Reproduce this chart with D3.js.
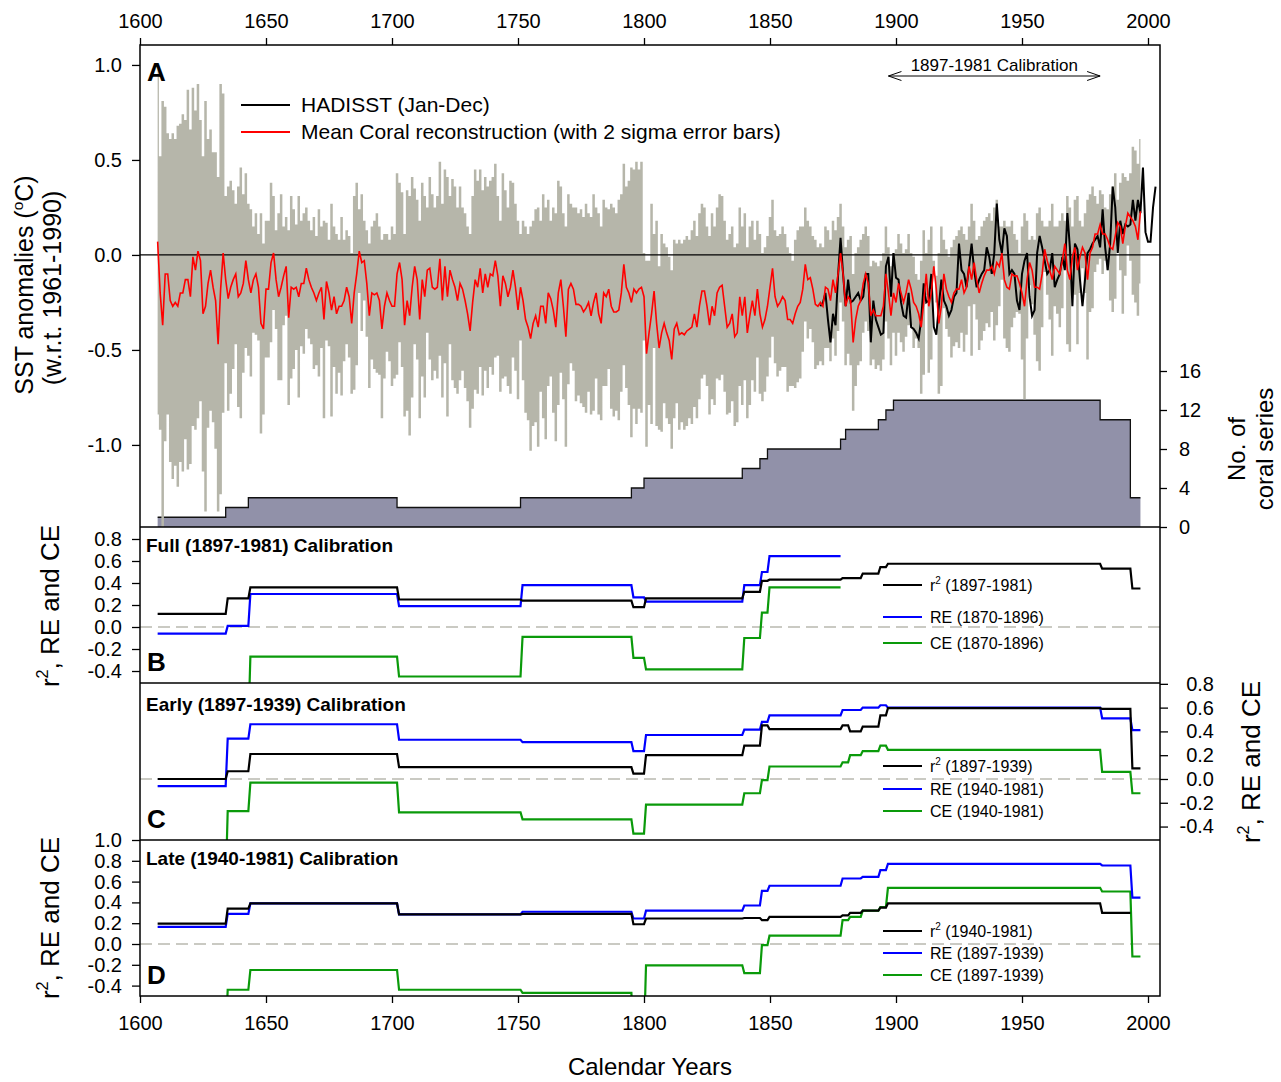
<!DOCTYPE html>
<html>
<head>
<meta charset="utf-8">
<script src="https://cdn.jsdelivr.net/npm/d3@7"></script>
<style>
  body { margin: 0; background: #fff; }
  svg text { font-family: "Liberation Sans", Arial, sans-serif; fill: #000; }
</style>
</head>
<body>
<svg id="chart" width="1281" height="1082"></svg>
<script>
// ---- data ----
// mean coral reconstruction, one value per year from 1607
const reconStart = 1607;
const recon = [
  0.07, -0.20, -0.37,
  -0.10, -0.10, -0.24, -0.27, -0.25, -0.27, -0.20, -0.20, -0.13, -0.13,
  -0.22, -0.01, -0.08, 0.02, -0.03, -0.31, -0.27, -0.15, -0.08, -0.17,
  -0.24, -0.47, -0.18, 0.01, -0.13, -0.23, -0.17, -0.13, -0.10, -0.22,
  -0.20, -0.15, -0.03, -0.13, -0.20, -0.13, -0.10, -0.17, -0.36, -0.39,
  -0.18, -0.18, -0.04, 0.01, -0.13, -0.22, -0.17, -0.11, -0.06, -0.33,
  -0.17, -0.18, -0.17, -0.22, -0.15, -0.15, -0.07, -0.13, -0.17, -0.20,
  -0.24, -0.20, -0.17, -0.34, -0.14, -0.20, -0.29, -0.22, -0.31, -0.27,
  -0.27, -0.24, -0.17, -0.22, -0.36, -0.20, -0.10, 0.02, -0.04, -0.03,
  -0.15, -0.32, -0.20, -0.21, -0.20, -0.24, -0.39, -0.27, -0.20, -0.24,
  -0.27, -0.27, -0.10, -0.04, -0.13, -0.37, -0.24, -0.32, -0.17, -0.06,
  -0.13, -0.34, -0.13, -0.22, -0.08, -0.07, -0.17, -0.18, -0.17, -0.02,
  -0.24, -0.06, -0.22, -0.08, -0.13, -0.17, -0.24, -0.15, -0.18, -0.24,
  -0.31, -0.40, -0.25, -0.13, -0.17, -0.07, -0.20, -0.10, -0.17, -0.10,
  -0.11, -0.03, -0.11, -0.27, -0.11, -0.15, -0.22, -0.17, -0.08, -0.17,
  -0.29, -0.17, -0.24, -0.34, -0.38, -0.44, -0.36, -0.32, -0.38, -0.27,
  -0.27, -0.36, -0.20, -0.23, -0.29, -0.38, -0.20, -0.13, -0.27, -0.43,
  -0.18, -0.15, -0.18, -0.26, -0.26, -0.27, -0.30, -0.28, -0.25, -0.32,
  -0.25, -0.20, -0.31, -0.36, -0.20, -0.22, -0.18, -0.27, -0.30, -0.30,
  -0.29, -0.20, -0.05, -0.17, -0.20, -0.25, -0.18, -0.20, -0.18, -0.17,
  -0.22, -0.52, -0.41, -0.31, -0.19, -0.36, -0.49, -0.41, -0.36, -0.41,
  -0.45, -0.55, -0.39, -0.36, -0.42, -0.41, -0.42, -0.40, -0.39, -0.38,
  -0.31, -0.38, -0.27, -0.19, -0.19, -0.27, -0.37, -0.27, -0.32, -0.20,
  -0.17, -0.16, -0.27, -0.38, -0.36, -0.31, -0.43, -0.41, -0.22, -0.32,
  -0.22, -0.41, -0.32, -0.24, -0.32, -0.18, -0.31, -0.38, -0.34, -0.27,
  -0.17, -0.07, -0.22, -0.27, -0.25, -0.22, -0.24, -0.34, -0.34, -0.36,
  -0.31, -0.27, -0.25, -0.18, -0.05, -0.13, -0.12, -0.18, -0.26, -0.27,
  -0.25, -0.27, -0.17, -0.18, -0.24, -0.13, -0.20, -0.10, 0.01, -0.10,
  -0.27, -0.22, -0.24, -0.46, -0.34, -0.27, -0.24, -0.15, -0.10, -0.15,
  -0.32, -0.29, -0.32, -0.32, -0.32, -0.27, -0.10, -0.20, -0.32, -0.20,
  -0.25, -0.15, -0.20, -0.25, -0.20, -0.13, -0.18, -0.25, -0.27, -0.31,
  -0.38, -0.25, -0.10, -0.27, -0.20, -0.06, -0.18, -0.36, -0.27, -0.10,
  -0.18, -0.22, -0.25, -0.20, -0.18, -0.18, -0.13, -0.20, -0.17, -0.06,
  -0.13, -0.04, -0.13, -0.20, -0.15, -0.11, -0.08, -0.08, -0.06, -0.10,
  -0.04, -0.06, 0.01, -0.13, -0.17, -0.18, -0.10, -0.11, -0.11, -0.15,
  -0.20, -0.27, -0.13, -0.04, -0.08, -0.17, -0.17, -0.18, -0.10, 0.03,
  -0.03, -0.08, -0.13, -0.06, -0.08, -0.10, -0.03, 0.06, -0.08, -0.13,
  -0.01, 0.04, -0.08, -0.01, 0.04, 0.01, -0.13, 0.01, 0.04, 0.11,
  0.11, 0.16, 0.11, 0.11, 0.08, 0.04, 0.03, 0.10, 0.17, 0.15,
  0.06, 0.15, 0.22, 0.20, 0.18, 0.15, 0.08, 0.23
];

// top of the 2 sigma error bar, same years as recon
const reconUpper = [
  0.98, 0.52, 0.81,
  0.78, 0.64, 0.61, 0.64, 0.61, 0.68, 0.69, 0.74, 0.71, 0.87,
  0.66, 0.88, 0.76, 0.90, 0.71, 0.52, 0.81, 0.61, 0.66, 0.54,
  0.54, 0.41, 0.90, 0.85, 0.31, 0.36, 0.39, 0.34, 0.27, 0.36,
  0.46, 0.32, 0.43, 0.27, 0.24, 0.15, 0.22, 0.11, 0.22, 0.06,
  0.18, 0.18, 0.38, 0.31, 0.13, 0.22, 0.32, 0.15, 0.20, 0.13,
  0.31, 0.24, 0.16, 0.31, 0.18, 0.22, 0.25, 0.18, 0.13, 0.20,
  0.10, 0.24, 0.15, 0.18, 0.17, 0.08, 0.27, 0.15, 0.11, 0.08,
  0.20, 0.08, 0.13, 0.10, 0.01, 0.31, 0.38, 0.24, 0.32, 0.18,
  0.13, 0.06, 0.15, 0.18, 0.22, 0.15, 0.08, 0.11, 0.11, 0.08,
  0.15, 0.11, 0.43, 0.38, 0.33, 0.11, 0.34, 0.31, 0.41, 0.35,
  0.29, 0.18, 0.38, 0.31, 0.25, 0.41, 0.32, 0.25, 0.31, 0.49,
  0.27, 0.45, 0.41, 0.31, 0.40, 0.36, 0.25, 0.36, 0.25, 0.22,
  0.15, 0.11, 0.31, 0.45, 0.39, 0.45, 0.34, 0.41, 0.36, 0.39,
  0.41, 0.48, 0.31, 0.18, 0.43, 0.34, 0.25, 0.39, 0.38, 0.27,
  0.18, 0.11, 0.18, 0.15, 0.11, 0.15, 0.18, 0.24, 0.25, 0.18,
  0.32, 0.25, 0.29, 0.18, 0.25, 0.22, 0.39, 0.36, 0.22, 0.15,
  0.32, 0.27, 0.25, 0.25, 0.22, 0.24, 0.20, 0.27, 0.22, 0.20,
  0.32, 0.25, 0.22, 0.15, 0.29, 0.25, 0.24, 0.27, 0.25, 0.22,
  0.29, 0.32, 0.48, 0.36, 0.39, 0.46, 0.45, 0.49, 0.45, 0.49,
  0.01, -0.03, -0.03, 0.27, 0.11, 0.18, -0.06, 0.11, 0.06, 0.04,
  -0.01, -0.08, 0.08, 0.06, 0.08, 0.06, 0.08, 0.10, 0.08, 0.13,
  0.18, 0.10, 0.22, 0.27, 0.25, 0.15, 0.10, 0.22, 0.15, 0.25,
  0.32, 0.31, 0.18, 0.08, 0.11, 0.15, 0.04, 0.06, 0.25, 0.15,
  0.22, 0.04, 0.15, 0.18, 0.08, 0.18, 0.11, 0.01, 0.04, 0.10,
  0.20, 0.29, 0.13, 0.10, 0.11, 0.15, 0.11, 0.04, 0.01, -0.03,
  0.08, 0.13, 0.15, 0.15, 0.25, 0.18, 0.15, 0.10, 0.08, 0.04,
  0.06, 0.04, 0.15, 0.13, 0.08, 0.18, 0.13, 0.20, 0.27, 0.15,
  0.04, 0.08, 0.10, -0.10, 0.01, 0.04, 0.08, 0.11, 0.15, 0.10,
  -0.06, -0.03, -0.04, -0.06, -0.03, 0.01, 0.15, 0.04, -0.06, 0.01,
  0.03, 0.11, 0.06, 0.01, 0.03, 0.11, 0.01, -0.01, -0.10, -0.13,
  -0.03, 0.13, 0.01, 0.08, 0.15, -0.03, -0.11, 0.01, 0.15, 0.08,
  0.03, -0.01, 0.04, 0.08, 0.10, 0.13, 0.15, 0.11, 0.08, 0.15,
  0.27, 0.18, 0.08, 0.10, 0.15, 0.18, 0.20, 0.22, 0.18, 0.25,
  0.29, 0.15, 0.15, 0.18, 0.15, 0.15, 0.18, 0.11, 0.08, 0.01,
  0.15, 0.22, 0.18, 0.08, 0.10, 0.08, 0.22, 0.25, 0.18, 0.15,
  0.15, 0.18, 0.27, 0.15, 0.15, 0.18, 0.22, 0.18, 0.31, 0.25,
  0.15, 0.29, 0.31, 0.18, 0.15, 0.22, 0.29, 0.32, 0.36, 0.31,
  0.27, 0.34, 0.32, 0.25, 0.24, 0.32, 0.36, 0.43, 0.29, 0.38,
  0.43, 0.41, 0.39, 0.43, 0.57, 0.55, 0.48, 0.61
];

// HadISST Jan-Dec anomaly, one value per year from 1870
const hadStart = 1870;
const hadisst = [
  -0.27, -0.25, -0.20, -0.34, -0.46, -0.31, -0.37, -0.11, 0.09, -0.10,
  -0.27, -0.13, -0.25, -0.24, -0.22, -0.20, -0.24, -0.22, -0.10, -0.10,
  -0.46, -0.24, -0.34, -0.38, -0.42, -0.41, -0.06, -0.01, -0.22, 0.01,
  -0.12, -0.13, -0.25, -0.32, -0.33, -0.20, -0.38, -0.39, -0.41, -0.44,
  -0.34, -0.15, -0.25, -0.24, -0.10, -0.38, -0.42, -0.27, -0.13, -0.24,
  -0.27, -0.32, -0.29, -0.22, -0.20, 0.06, -0.08, -0.10, -0.17, -0.06,
  0.06, -0.08, -0.17, -0.13, -0.10, -0.08, 0.04, -0.01, -0.10, 0.01,
  0.27, 0.08, 0.01, 0.14, 0.10, -0.10, -0.08, -0.10, -0.24, -0.29,
  -0.10, -0.03, 0.01, -0.22, -0.32, -0.29, 0.01, 0.10, 0.04, -0.03,
  -0.10, -0.08, 0.01, -0.17, -0.13, -0.10, -0.01, -0.08, 0.22, 0.04,
  -0.27, 0.06, 0.03, -0.13, -0.27, -0.13, 0.01, 0.03, 0.06, 0.08,
  0.10, 0.04, 0.24, 0.04, -0.08, 0.06, 0.36, 0.25, 0.01, 0.18,
  0.11, 0.16, 0.15, 0.16, 0.29, 0.18, 0.29, 0.22, 0.46, 0.12,
  0.07, 0.07, 0.25, 0.36
];

// number of coral series (step changes)
const coralYears  = [1607, 1634, 1643, 1702, 1751, 1795, 1800, 1839, 1846, 1849, 1878, 1880, 1893, 1896, 1899, 1981, 1993];
const coralCounts = [1, 2, 3, 2, 3, 4, 5, 6, 7, 8, 9, 10, 11, 12, 13, 11, 3];
const coralEnd = 1997;

// verification statistics, stepped at these years (null = not drawn)
const statYears = [1607, 1634, 1643, 1702, 1751, 1795, 1800, 1839, 1846, 1849, 1878, 1881, 1886, 1893, 1896, 1981, 1993];
const statEnd = 1997;
// B: full calibration
const r2Full = [0.12, 0.26, 0.36, 0.25, 0.24, 0.18, 0.26, 0.32, 0.42, 0.43, 0.445, 0.445, 0.485, 0.545, 0.575, 0.53, 0.35];
const reFull = [-0.06, 0.01, 0.30, 0.19, 0.38, 0.27, 0.23, 0.38, 0.50, 0.645, null, null, null, null, null, null, null];
const ceFull = [-0.9, -0.9, -0.27, -0.45, -0.09, -0.28, -0.385, -0.10, 0.13, 0.36, null, null, null, null, null, null, null];
// C: early calibration
const r2Early = [0.0, 0.065, 0.21, 0.10, 0.10, 0.045, 0.20, 0.28, 0.45, 0.42, 0.45, 0.40, 0.44, 0.535, 0.595, 0.59, 0.09];
const reEarly = [-0.06, 0.34, 0.46, 0.33, 0.31, 0.235, 0.37, 0.415, 0.48, 0.535, 0.58, 0.58, 0.60, 0.62, 0.60, 0.51, 0.41];
const ceEarly = [-0.9, -0.27, -0.03, -0.28, -0.34, -0.46, -0.215, -0.12, -0.01, 0.105, 0.14, 0.20, 0.235, 0.28, 0.245, 0.06, -0.12];
// D: late calibration
const r2Late = [0.195, 0.34, 0.39, 0.285, 0.29, 0.19, 0.245, 0.25, 0.23, 0.26, 0.275, 0.30, 0.32, 0.35, 0.39, 0.30, null];
const reLate = [0.165, 0.29, 0.39, 0.285, 0.31, 0.245, 0.32, 0.37, 0.51, 0.56, 0.63, 0.63, 0.645, 0.71, 0.77, 0.755, 0.445];
const ceLate = [-0.9, -0.44, -0.25, -0.44, -0.47, -0.9, -0.205, -0.28, -0.01, 0.08, 0.23, 0.26, 0.32, 0.355, 0.54, 0.505, -0.12];

const yearTicks = [1600, 1650, 1700, 1750, 1800, 1850, 1900, 1950, 2000];
const sstTicks = [1.0, 0.5, 0.0, -0.5, -1.0];
const coralTicks = [0, 4, 8, 12, 16];
const statTicks = [0.8, 0.6, 0.4, 0.2, 0.0, -0.2, -0.4];
const statTicksD = [1.0, 0.8, 0.6, 0.4, 0.2, 0.0, -0.2, -0.4];

// ---- layout ----
const svg = d3.select('#chart');
const L = 140, R = 1160;
const T = 45, BA = 527, BB = 683, BC = 840, BD = 996;

const x = d3.scaleLinear().domain([1600, 2000]).range([140, 1148]);
const yA = d3.scaleLinear().domain([-1.432, 1.105]).range([BA, T]);
const yN = d3.scaleLinear().domain([0, 16]).range([BA, 371]);
const yB = d3.scaleLinear().domain([-0.509, 0.909]).range([BB, BA]);
const yC = d3.scaleLinear().domain([-0.513, 0.807]).range([BC, BB]);
const yD = d3.scaleLinear().domain([-0.5, 1.0]).range([BD, BC]);

const fmt1 = d => d.toFixed(1);
const defs = svg.append('defs');
function clip(id, y0, y1) {
  defs.append('clipPath').attr('id', id)
    .append('rect').attr('x', L).attr('y', y0).attr('width', R - L).attr('height', y1 - y0);
  return svg.append('g').attr('clip-path', 'url(#' + id + ')');
}

// ---- panel A ----
const gA = clip('clipA', T, BA);

// coral count area
const coralPts = coralYears.map((yr, i) => [yr, coralCounts[i]]);
coralPts.push([coralEnd, coralCounts[coralCounts.length - 1]]);
gA.append('path')
  .attr('d', d3.area().curve(d3.curveStepAfter)
    .x(d => x(d[0])).y0(yN(0)).y1(d => yN(d[1]))(coralPts))
  .attr('fill', '#9191a9');
gA.append('path')
  .attr('d', d3.line().curve(d3.curveStepAfter).x(d => x(d[0])).y(d => yN(d[1]))(coralPts))
  .attr('fill', 'none').attr('stroke', '#111').attr('stroke-width', 1.3);

// 2 sigma error bars, one year wide, drawn as one stepped band
const errRows = recon.map((v, i) => ({ year: reconStart + i, hi: reconUpper[i], lo: v - (reconUpper[i] - v) }));
gA.append('path')
  .attr('d', d3.area().curve(d3.curveStep)
    .x(d => x(d.year)).y0(d => yA(d.lo)).y1(d => yA(d.hi))(errRows))
  .attr('fill', '#b6b6aa');

gA.append('line').attr('x1', L).attr('x2', R).attr('y1', yA(0)).attr('y2', yA(0))
  .attr('stroke', '#000').attr('stroke-width', 1.3);

const lineA = d3.line().x(d => x(d[0])).y(d => yA(d[1]));
gA.append('path')
  .attr('d', lineA(hadisst.map((v, i) => [hadStart + i, v])))
  .attr('fill', 'none').attr('stroke', '#000').attr('stroke-width', 2);
gA.append('path')
  .attr('d', lineA(recon.map((v, i) => [reconStart + i, v])))
  .attr('fill', 'none').attr('stroke', '#ff0000').attr('stroke-width', 1.6);

// ---- panels B, C, D ----
const ramp = 0.8;
function stepPts(vals) {
  const pts = [];
  vals.forEach((v, i) => {
    const x0 = statYears[i];
    const x1 = i + 1 < statYears.length ? statYears[i + 1] : statEnd;
    if (v == null) { pts.push(null); return; }
    const prevDef = i > 0 && vals[i - 1] != null;
    pts.push([prevDef ? x0 + ramp : x0, v], [x1, v]);
  });
  return pts;
}
const statColors = ['#000000', '#0000ff', '#0a9a0a'];
function statPanel(id, y, y0, y1, series) {
  const g = clip(id, y0, y1);
  g.append('line').attr('x1', L).attr('x2', R).attr('y1', y(0)).attr('y2', y(0))
    .attr('stroke', '#b9b9b0').attr('stroke-width', 1.5).attr('stroke-dasharray', '12,6');
  const ln = d3.line().defined(p => p != null).x(p => x(p[0])).y(p => y(p[1]));
  // draw green, blue, then black on top
  [2, 1, 0].forEach(k => {
    g.append('path').attr('d', ln(stepPts(series[k])))
      .attr('fill', 'none').attr('stroke', statColors[k]).attr('stroke-width', 2.2);
  });
}
statPanel('clipB', yB, BA, BB, [r2Full, reFull, ceFull]);
statPanel('clipC', yC, BB, BC, [r2Early, reEarly, ceEarly]);
statPanel('clipD', yD, BC, BD, [r2Late, reLate, ceLate]);

// ---- frame ----
svg.append('rect').attr('x', L).attr('y', T).attr('width', R - L).attr('height', BD - T)
  .attr('fill', 'none').attr('stroke', '#000').attr('stroke-width', 1.5);
[BA, BB, BC].forEach(yy => svg.append('line').attr('x1', L).attr('x2', R).attr('y1', yy).attr('y2', yy)
  .attr('stroke', '#000').attr('stroke-width', 1.5));

// ---- axes ----
function styleAxis(g, size) {
  g.select('.domain').remove();
  g.selectAll('.tick line').attr('stroke', '#000').attr('stroke-width', 1.3);
  g.selectAll('.tick text').attr('font-size', size || 20).attr('font-family', '"Liberation Sans", Arial, sans-serif');
}
svg.append('g').attr('transform', `translate(0,${T})`)
  .call(d3.axisTop(x).tickValues(yearTicks).tickFormat(d3.format('d')).tickSize(7).tickPadding(10))
  .call(g => styleAxis(g));
svg.append('g').attr('transform', `translate(0,${BD})`)
  .call(d3.axisBottom(x).tickValues(yearTicks).tickFormat(d3.format('d')).tickSize(7).tickPadding(13))
  .call(g => styleAxis(g));
svg.append('g').attr('transform', `translate(${L},0)`)
  .call(d3.axisLeft(yA).tickValues(sstTicks).tickFormat(fmt1).tickSize(8).tickPadding(10))
  .call(g => styleAxis(g));
svg.append('g').attr('transform', `translate(${R},0)`)
  .call(d3.axisRight(yN).tickValues(coralTicks).tickSize(7).tickPadding(12))
  .call(g => styleAxis(g));
svg.append('g').attr('transform', `translate(${L},0)`)
  .call(d3.axisLeft(yB).tickValues(statTicks).tickFormat(fmt1).tickSize(8).tickPadding(10))
  .call(g => styleAxis(g));
svg.append('g').attr('transform', `translate(${R},0)`)
  .call(d3.axisRight(yC).tickValues(statTicks).tickFormat(fmt1).tickSize(8).tickPadding(10))
  .call(g => { styleAxis(g); g.selectAll('.tick text').attr('text-anchor', 'end').attr('x', 54); });
svg.append('g').attr('transform', `translate(${L},0)`)
  .call(d3.axisLeft(yD).tickValues(statTicksD).tickFormat(fmt1).tickSize(8).tickPadding(10))
  .call(g => styleAxis(g));

// ---- axis titles ----
function vtitle(cx, cy, parts, size) {
  const t = svg.append('text').attr('transform', `translate(${cx},${cy}) rotate(-90)`)
    .attr('text-anchor', 'middle').attr('font-size', size);
  parts.forEach(p => {
    const s = t.append('tspan').text(p.t);
    if (p.sup) s.attr('font-size', size * 0.62).attr('dy', -size * 0.42);
    if (p.down) s.attr('dy', size * 0.42);
  });
}
vtitle(33, 285, [{t: 'SST anomalies ('}, {t: 'o', sup: true}, {t: 'C)', down: true}], 25);
vtitle(61, 288, [{t: '(w.r.t. 1961-1990)'}], 25);
vtitle(59, 606, [{t: 'r'}, {t: '2', sup: true}, {t: ', RE and CE', down: true}], 26);
vtitle(59, 918, [{t: 'r'}, {t: '2', sup: true}, {t: ', RE and CE', down: true}], 26);
vtitle(1260, 762, [{t: 'r'}, {t: '2', sup: true}, {t: ', RE and CE', down: true}], 26);
vtitle(1245, 449, [{t: 'No. of'}], 24);
vtitle(1273, 449, [{t: 'coral series'}], 24);
svg.append('text').attr('x', 650).attr('y', 1075).attr('text-anchor', 'middle')
  .attr('font-size', 24).text('Calendar Years');

// ---- panel labels ----
[['A', 81], ['B', 671], ['C', 828], ['D', 984]].forEach(([s, yy]) => {
  svg.append('text').attr('x', 147).attr('y', yy).attr('font-size', 26)
    .attr('font-weight', 'bold').text(s);
});
[['Full (1897-1981) Calibration', 552], ['Early (1897-1939) Calibration', 711],
 ['Late (1940-1981) Calibration', 865]].forEach(([s, yy]) => {
  svg.append('text').attr('x', 146).attr('y', yy).attr('font-size', 19)
    .attr('font-weight', 'bold').text(s);
});

// ---- legend A ----
[['HADISST (Jan-Dec)', '#000', 105], ['Mean Coral reconstruction (with 2 sigma error bars)', '#ff0000', 132]]
  .forEach(([s, c, yy]) => {
    svg.append('line').attr('x1', 241).attr('x2', 290).attr('y1', yy).attr('y2', yy)
      .attr('stroke', c).attr('stroke-width', 2);
    svg.append('text').attr('x', 301).attr('y', yy + 7).attr('font-size', 21).text(s);
  });

// calibration arrow
const ax0 = x(1897), ax1 = x(1981), ay = 76;
svg.append('path')
  .attr('d', `M${ax0},${ay}H${ax1}M${ax0 + 13},${ay - 4.5}L${ax0},${ay}L${ax0 + 13},${ay + 4.5}` +
             `M${ax1 - 13},${ay - 4.5}L${ax1},${ay}L${ax1 - 13},${ay + 4.5}`)
  .attr('fill', 'none').attr('stroke', '#000').attr('stroke-width', 1);
svg.append('text').attr('x', (ax0 + ax1) / 2).attr('y', 71).attr('text-anchor', 'middle')
  .attr('font-size', 17).text('1897-1981 Calibration');

// ---- legends B, C, D ----
function statLegend(rows) {
  rows.forEach(([label, period, k, yy]) => {
    svg.append('line').attr('x1', 883).attr('x2', 922).attr('y1', yy).attr('y2', yy)
      .attr('stroke', statColors[k]).attr('stroke-width', 2.2);
    const t = svg.append('text').attr('x', 930).attr('y', yy + 6).attr('font-size', 16);
    if (label === 'r2') {
      t.append('tspan').text('r');
      t.append('tspan').text('2').attr('font-size', 10).attr('dy', -7);
      t.append('tspan').text(' ' + period).attr('dy', 7);
    } else {
      t.text(label + ' ' + period);
    }
  });
}
statLegend([['r2', '(1897-1981)', 0, 585], ['RE', '(1870-1896)', 1, 617], ['CE', '(1870-1896)', 2, 643]]);
statLegend([['r2', '(1897-1939)', 0, 766], ['RE', '(1940-1981)', 1, 789], ['CE', '(1940-1981)', 2, 811]]);
statLegend([['r2', '(1940-1981)', 0, 931], ['RE', '(1897-1939)', 1, 953], ['CE', '(1897-1939)', 2, 975]]);
</script>
</body>
</html>
